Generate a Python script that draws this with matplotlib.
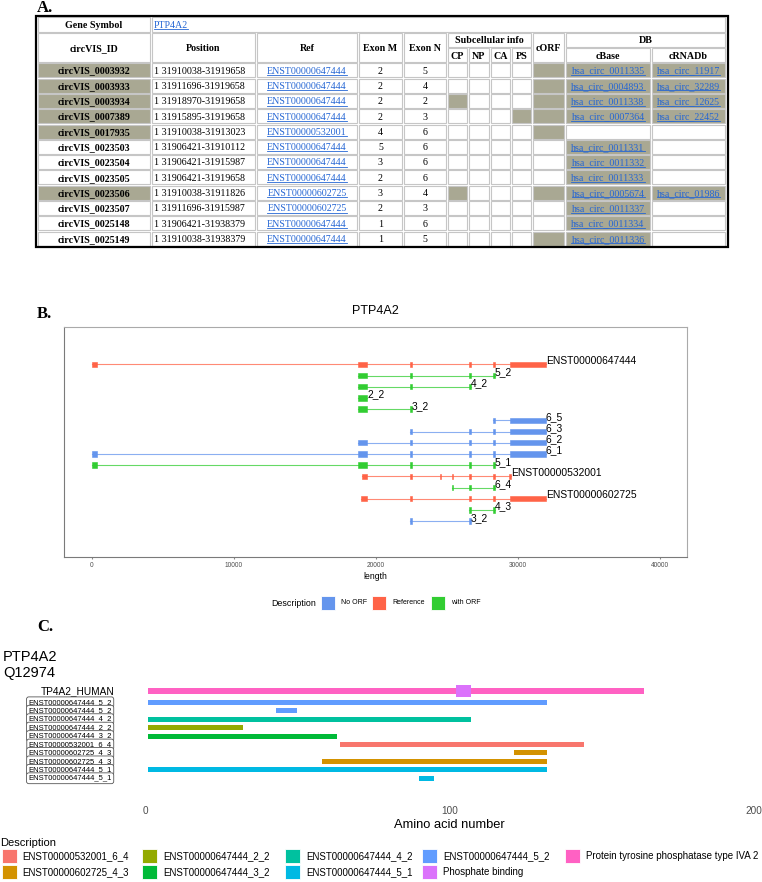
import matplotlib
matplotlib.use("Agg")
import matplotlib.pyplot as plt
from matplotlib.patches import Rectangle

W, H = 762, 882
plt.rcParams["font.family"] = "Liberation Sans"
SERIF = "Liberation Serif"
SHADE = "#a9a893"
LINK = "#2566d4"

# ---------------- panel A: circRNA table ----------------
gene_symbol = "PTP4A2"
circ_ids = ["circVIS_0003932", "circVIS_0003933", "circVIS_0003934", "circVIS_0007389",
            "circVIS_0017935", "circVIS_0023503", "circVIS_0023504", "circVIS_0023505",
            "circVIS_0023506", "circVIS_0023507", "circVIS_0025148", "circVIS_0025149"]
positions = ["1 31910038-31919658", "1 31911696-31919658", "1 31918970-31919658",
             "1 31915895-31919658", "1 31910038-31913023", "1 31906421-31910112",
             "1 31906421-31915987", "1 31906421-31919658", "1 31910038-31911826",
             "1 31911696-31915987", "1 31906421-31938379", "1 31910038-31938379"]
refs = ["ENST00000647444", "ENST00000647444", "ENST00000647444", "ENST00000647444",
        "ENST00000532001", "ENST00000647444", "ENST00000647444", "ENST00000647444",
        "ENST00000602725", "ENST00000602725", "ENST00000647444", "ENST00000647444"]
exon_m = [2, 2, 2, 2, 4, 5, 3, 2, 3, 2, 1, 1]
exon_n = [5, 4, 2, 3, 6, 6, 6, 6, 4, 3, 6, 5]
id_hit = [1, 1, 1, 1, 1, 0, 0, 0, 1, 0, 0, 0]
sub_cp = [0, 0, 1, 0, 0, 0, 0, 0, 1, 0, 0, 0]
sub_np = [0, 0, 0, 0, 0, 0, 0, 0, 0, 0, 0, 0]
sub_ca = [0, 0, 0, 0, 0, 0, 0, 0, 0, 0, 0, 0]
sub_ps = [0, 0, 0, 1, 0, 0, 0, 0, 0, 0, 0, 0]
corf = [1, 1, 1, 1, 1, 0, 0, 0, 1, 0, 0, 1]
cbase = ["hsa_circ_0011335", "hsa_circ_0004893", "hsa_circ_0011338", "hsa_circ_0007364", "",
         "hsa_circ_0011331", "hsa_circ_0011332", "hsa_circ_0011333", "hsa_circ_0005674",
         "hsa_circ_0011337", "hsa_circ_0011334", "hsa_circ_0011336"]
crnadb = ["hsa_circ_11917", "hsa_circ_32289", "hsa_circ_12625", "hsa_circ_22452", "",
          "", "", "", "hsa_circ_01986", "", "", ""]

# ---------------- panel B: transcript structures ----------------
b_labels = ["ENST00000647444", "5_2", "4_2", "2_2", "3_2", "6_5", "6_3", "6_2", "6_1",
            "5_1", "ENST00000532001", "6_4", "ENST00000602725", "4_3", "3_2"]
b_types = ["Reference", "with ORF", "with ORF", "with ORF", "with ORF", "No ORF", "No ORF",
           "No ORF", "No ORF", "with ORF", "Reference", "with ORF", "Reference", "with ORF",
           "No ORF"]
b_exons = [
    [(0, 380), (18700, 19380), (22380, 22500), (26550, 26670), (28230, 28350), (29410, 31950)],
    [(18700, 19380), (22380, 22500), (26550, 26670), (28230, 28350)],
    [(18700, 19380), (22380, 22500), (26550, 26670)],
    [(18700, 19380)],
    [(18700, 19380), (22380, 22500)],
    [(28230, 28350), (29410, 31950)],
    [(22380, 22500), (26550, 26670), (28230, 28350), (29410, 31950)],
    [(18700, 19380), (22380, 22500), (26550, 26670), (28230, 28350), (29410, 31950)],
    [(0, 380), (18700, 19380), (22380, 22500), (26550, 26670), (28230, 28350), (29410, 31950)],
    [(0, 380), (18700, 19380), (22380, 22500), (26550, 26670), (28230, 28350)],
    [(19000, 19370), (22380, 22500), (24500, 24600), (25320, 25420), (26550, 26670),
     (28230, 28350), (29400, 29480)],
    [(25320, 25420), (26550, 26670), (28230, 28350)],
    [(18920, 19350), (22380, 22500), (26550, 26670), (28230, 28350), (29410, 31950)],
    [(26550, 26670), (28230, 28350)],
    [(22380, 22500), (26550, 26670)],
]
b_desc = ["No ORF", "Reference", "with ORF"]
b_colors = {"No ORF": "#6495ED", "Reference": "#FF6347", "with ORF": "#32CD32"}

# ---------------- panel C: protein features ----------------
protein_id = "Q12974"
chain_name = "TP4A2_HUMAN"
chain_start, chain_end = 1, 164
site_start, site_end = 102, 107
c_tracks = ["ENST00000647444_5_2", "ENST00000647444_5_2", "ENST00000647444_4_2",
            "ENST00000647444_2_2", "ENST00000647444_3_2", "ENST00000532001_6_4",
            "ENST00000602725_4_3", "ENST00000602725_4_3", "ENST00000647444_5_1",
            "ENST00000647444_5_1"]
c_start = [1, 43, 1, 1, 1, 64, 121, 58, 1, 90]
c_end = [132, 50, 107, 32, 63, 144, 132, 132, 132, 95]
c_desc = ["ENST00000532001_6_4", "ENST00000602725_4_3", "ENST00000647444_2_2",
          "ENST00000647444_3_2", "ENST00000647444_4_2", "ENST00000647444_5_1",
          "ENST00000647444_5_2", "Phosphate binding", "Protein tyrosine phosphatase type IVA 2"]
c_colors = ["#F8766D", "#D39200", "#93AA00", "#00BA38", "#00C19F", "#00B9E3", "#619CFF",
            "#DB72FB", "#FF61C3"]
c_col = dict(zip(c_desc, c_colors))

fig = plt.figure(figsize=(W / 100, H / 100), dpi=100)
cv = fig.add_axes([0, 0, 1, 1])
cv.set_xlim(0, W)
cv.set_ylim(H, 0)
cv.axis("off")


def px_axes(x0, y0, x1, y1):
    return fig.add_axes([x0 / W, 1 - y1 / H, (x1 - x0) / W, (y1 - y0) / H])


# ---- table ----
col_x = [37, 151, 256, 358, 403, 447, 468, 490, 511, 532, 565, 651, 726]
links = []


def cell(c0, c1, y0, y1, fill="white"):
    cv.add_patch(Rectangle((col_x[c0] + 1, y0), col_x[c1] - col_x[c0] - 2, y1 - y0,
                           fc=fill, ec="#c6c6c6", lw=0.8))


def put(c0, c1, y0, y1, s, bold=False, link=False, left=False):
    if not s:
        return
    x = col_x[c0] + 3 if left else (col_x[c0] + col_x[c1]) / 2
    yb = (y0 + y1) / 2 + 3.3
    t = cv.text(x, yb, s, ha="left" if left else "center", va="baseline", fontsize=7.2,
                family=SERIF, fontweight="bold" if bold else "normal",
                color=LINK if link else "black")
    if link:
        links.append((t, yb))


cv.add_patch(Rectangle((35.5, 15.5), 692, 231, fc="none", ec="black", lw=1.6, zorder=5))
cell(0, 1, 17, 32)
put(0, 1, 17, 32, "Gene Symbol", bold=True)
cell(1, 12, 17, 32)
put(1, 12, 17, 32, gene_symbol, link=True, left=True)

for c, name in [(0, "circVIS_ID"), (1, "Position"), (2, "Ref"), (3, "Exon M"),
                (4, "Exon N"), (9, "cORF")]:
    cell(c, c + 1, 33.3, 62.3)
    put(c, c + 1, 33.3, 62.3, name, bold=True)
cell(5, 9, 33.3, 47)
put(5, 9, 33.3, 47, "Subcellular info", bold=True)
cell(10, 12, 33.3, 47)
put(10, 12, 33.3, 47, "DB", bold=True)
for c, name in [(5, "CP"), (6, "NP"), (7, "CA"), (8, "PS"), (10, "cBase"), (11, "cRNADb")]:
    cell(c, c + 1, 48.3, 62.3)
    put(c, c + 1, 48.3, 62.3, name, bold=True)

for i in range(len(circ_ids)):
    y0 = 63.3 + 15.3 * i
    y1 = y0 + 14
    cell(0, 1, y0, y1, SHADE if id_hit[i] else "white")
    put(0, 1, y0, y1, circ_ids[i], bold=True)
    cell(1, 2, y0, y1)
    put(1, 2, y0, y1, positions[i], left=True)
    cell(2, 3, y0, y1)
    put(2, 3, y0, y1, refs[i], link=True)
    cell(3, 4, y0, y1)
    put(3, 4, y0, y1, str(exon_m[i]))
    cell(4, 5, y0, y1)
    put(4, 5, y0, y1, str(exon_n[i]))
    for c, flag in zip(range(5, 10), [sub_cp[i], sub_np[i], sub_ca[i], sub_ps[i], corf[i]]):
        cell(c, c + 1, y0, y1, SHADE if flag else "white")
    cell(10, 11, y0, y1, SHADE if cbase[i] else "white")
    put(10, 11, y0, y1, cbase[i], link=True)
    cell(11, 12, y0, y1, SHADE if crnadb[i] else "white")
    put(11, 12, y0, y1, crnadb[i], link=True)

# panel letters
for s, y in [("A.", 8), ("B.", 314), ("C.", 627)]:
    cv.text(37, y, s, fontsize=12, family=SERIF, fontweight="bold", va="center")

# ---- panel B ----
axB = px_axes(64, 327, 687, 557)
rows = range(1, len(b_labels) + 1)
for r, lab, typ, ex in zip(rows, b_labels, b_types, b_exons):
    col = b_colors[typ]
    axB.plot([ex[0][0], ex[-1][1]], [r, r], color=col, lw=0.8, alpha=0.75, zorder=2)
    for s, e in ex:
        axB.add_patch(Rectangle((s, r - 0.24), e - s, 0.48, fc=col, ec=col, lw=0.4, zorder=3))
    axB.text(ex[-1][1], r - 0.3, lab, fontsize=7.4, ha="left", va="center")
axB.set_xlim(-1972, 41900)
axB.set_ylim(18.2, -2.33)
axB.set_yticks([])
axB.set_xticks([0, 10000, 20000, 30000, 40000])
axB.tick_params(axis="x", labelsize=4.7, labelcolor="#4d4d4d", length=1.5, color="#888888",
                pad=2)
axB.set_xlabel("length", fontsize=6.2, labelpad=2)
axB.set_title("PTP4A2", fontsize=9, pad=9)
for k in ["left", "bottom"]:
    axB.spines[k].set_color("#7a7a7a")
for k in ["top", "right"]:
    axB.spines[k].set_color("#aaaaaa")

# legend B (drawn on canvas)
cv.text(271, 603, "Description", fontsize=6.4, va="center")
for d, bx in zip(b_desc, [321, 372, 431]):
    cv.add_patch(Rectangle((bx, 596), 14, 14, fc=b_colors[d], ec="white", lw=0.6))
    cv.text(bx + 20, 603, d, fontsize=5, va="center")

# ---- panel C ----
pitch = 8.44
axC = px_axes(145.3, 682, 754, 805)
axC.set_xlim(0, 200)
axC.set_ylim((805 - 702.3) / pitch, (682 - 702.3) / pitch)
chain_row = (691 - 702.3) / pitch
axC.barh(chain_row, chain_end - chain_start, left=chain_start, height=0.62,
         color=c_col["Protein tyrosine phosphatase type IVA 2"])
axC.barh(chain_row, site_end - site_start, left=site_start, height=1.4,
         color=c_col["Phosphate binding"])
axC.text(-10, chain_row, chain_name, ha="right", va="center", fontsize=7.3, clip_on=False)
for i, (tr, s, e) in enumerate(zip(c_tracks, c_start, c_end)):
    axC.barh(i, e - s, left=s, height=0.6, color=c_col[tr])
    axC.text(-11, i, tr, ha="right", va="center", fontsize=5.5, clip_on=False,
             bbox=dict(boxstyle="round,pad=0.25,rounding_size=0.3", fc="white",
                       ec="#555555", lw=0.6))
axC.set_yticks([])
axC.set_xticks([0, 100, 200])
axC.tick_params(axis="x", labelsize=7.2, labelcolor="#4d4d4d", length=0, pad=1)
axC.set_xlabel("Amino acid number", fontsize=9.3, labelpad=2)
for sp in axC.spines.values():
    sp.set_visible(False)

cv.text(3, 657, gene_symbol, fontsize=10.5, va="center")
cv.text(3, 673, protein_id, fontsize=10.5, va="center")

# legend C (2 rows, filled column by column)
cv.text(0, 843, "Description", fontsize=8, va="center")
leg_x = [1.5, 142, 285, 422, 565]
for k, (d, col) in enumerate(zip(c_desc, c_colors)):
    bx = leg_x[k // 2]
    yc = 856 + 16 * (k % 2)
    cv.add_patch(Rectangle((bx, yc - 7), 15, 14, fc=col, ec="white", lw=0.6))
    cv.text(bx + 21, yc, d, fontsize=7, va="center")

# underline links
fig.canvas.draw()
rend = fig.canvas.get_renderer()
for t, yb in links:
    bb = t.get_window_extent(rend)
    cv.plot([bb.x0, bb.x1], [yb + 1.3, yb + 1.3], color=LINK, lw=0.6)

fig.savefig("out.png", dpi=100)
